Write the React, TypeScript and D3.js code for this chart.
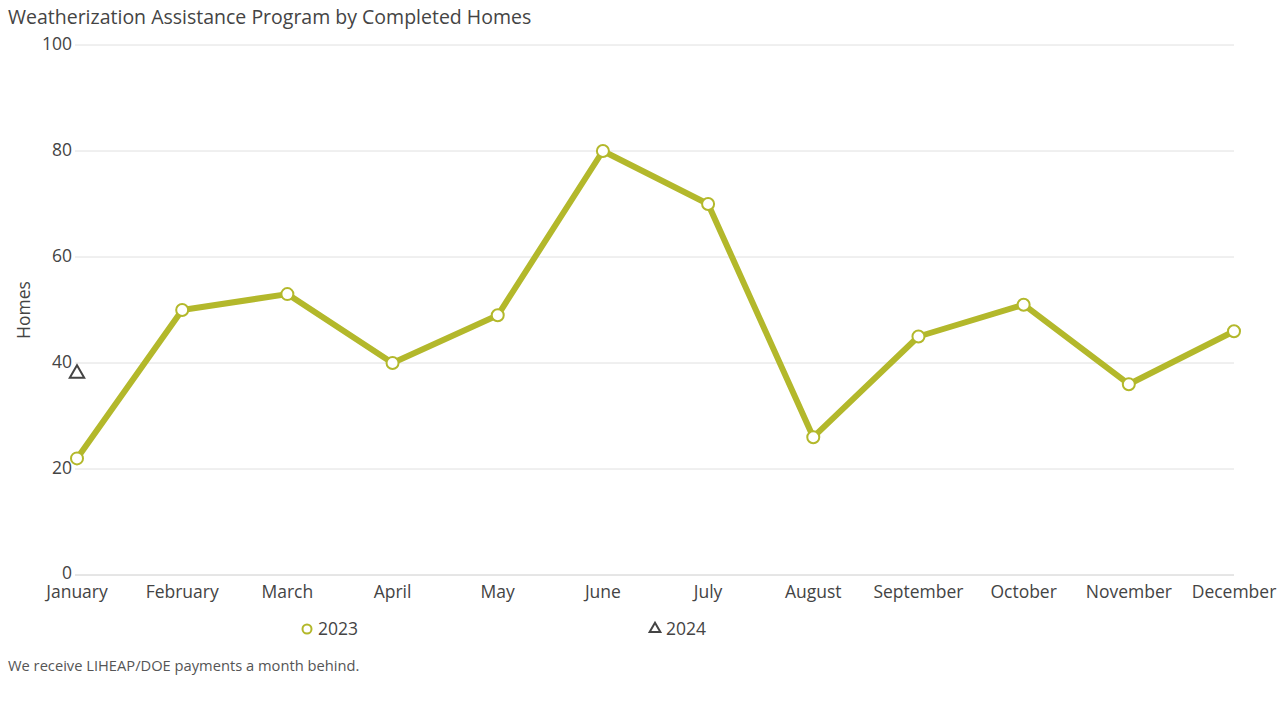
import * as d3 from 'd3';

const months = ['January', 'February', 'March', 'April', 'May', 'June', 'July', 'August', 'September', 'October', 'November', 'December'];
const homes2023 = [22, 50, 53, 40, 49, 80, 70, 26, 45, 51, 36, 46];
const homes2024 = [38];
const yTicks = [0, 20, 40, 60, 80, 100];

const W = 1285;
const H = 727;
const olive = '#b3b82b';
const font = '"Open Sans", sans-serif';

export default function App() {
  const x = d3.scalePoint<string>().domain(months).range([77, 1234]);
  const y = d3.scaleLinear().domain([0, 100]).range([575, 45]);
  const line = d3
    .line<number>()
    .x((_, i) => x(months[i]) as number)
    .y((d) => y(d));

  const tri = d3.symbol().type(d3.symbolTriangle).size(90)();
  const triSmall = d3.symbol().type(d3.symbolTriangle).size(50)();

  return (
    <svg width={W} height={H} style={{ position: 'absolute', left: 0, top: 0, fontFamily: font }}>
      <rect width={W} height={H} fill="#fff" />
      <text x={8} y={24} fontSize={19.5} fill="#444">Weatherization Assistance Program by Completed Homes</text>

      {yTicks.map((t) => (
        <g key={t}>
          <line x1={75} x2={1234} y1={y(t)} y2={y(t)} stroke={t === 0 ? '#ccc' : '#e0e0e0'} strokeWidth={1} />
          <text x={72} y={y(t) - (t === 0 ? 2 : 1)} dy="0.35em" textAnchor="end" fontSize={17.5} fill="#444">{t}</text>
        </g>
      ))}

      {months.map((m) => (
        <text key={m} x={x(m)} y={598} textAnchor="middle" fontSize={17.5} fill="#444">{m}</text>
      ))}

      <text transform="translate(30,310) rotate(-90)" textAnchor="middle" fontSize={17.5} fill="#444">Homes</text>

      <path d={line(homes2023) ?? ''} fill="none" stroke={olive} strokeWidth={6} strokeLinejoin="round" />
      {homes2023.map((v, i) => (
        <circle key={i} cx={x(months[i])} cy={y(v)} r={6} fill="#fff" stroke={olive} strokeWidth={2} />
      ))}

      {homes2024.map((v, i) => (
        <path key={i} d={tri ?? ''} transform={`translate(${x(months[i])},${y(v)})`} fill="#fff" stroke="#444" strokeWidth={2} />
      ))}

      <circle cx={307} cy={629} r={4.5} fill="#fff" stroke={olive} strokeWidth={2} />
      <text x={318} y={629} dy="0.35em" fontSize={17.5} fill="#444">2023</text>
      <path d={triSmall ?? ''} transform="translate(655,629)" fill="#fff" stroke="#444" strokeWidth={2} />
      <text x={666} y={629} dy="0.35em" fontSize={17.5} fill="#444">2024</text>

      <text x={8} y={671} fontSize={14.7} fill="#555">We receive LIHEAP/DOE payments a month behind.</text>
    </svg>
  );
}
